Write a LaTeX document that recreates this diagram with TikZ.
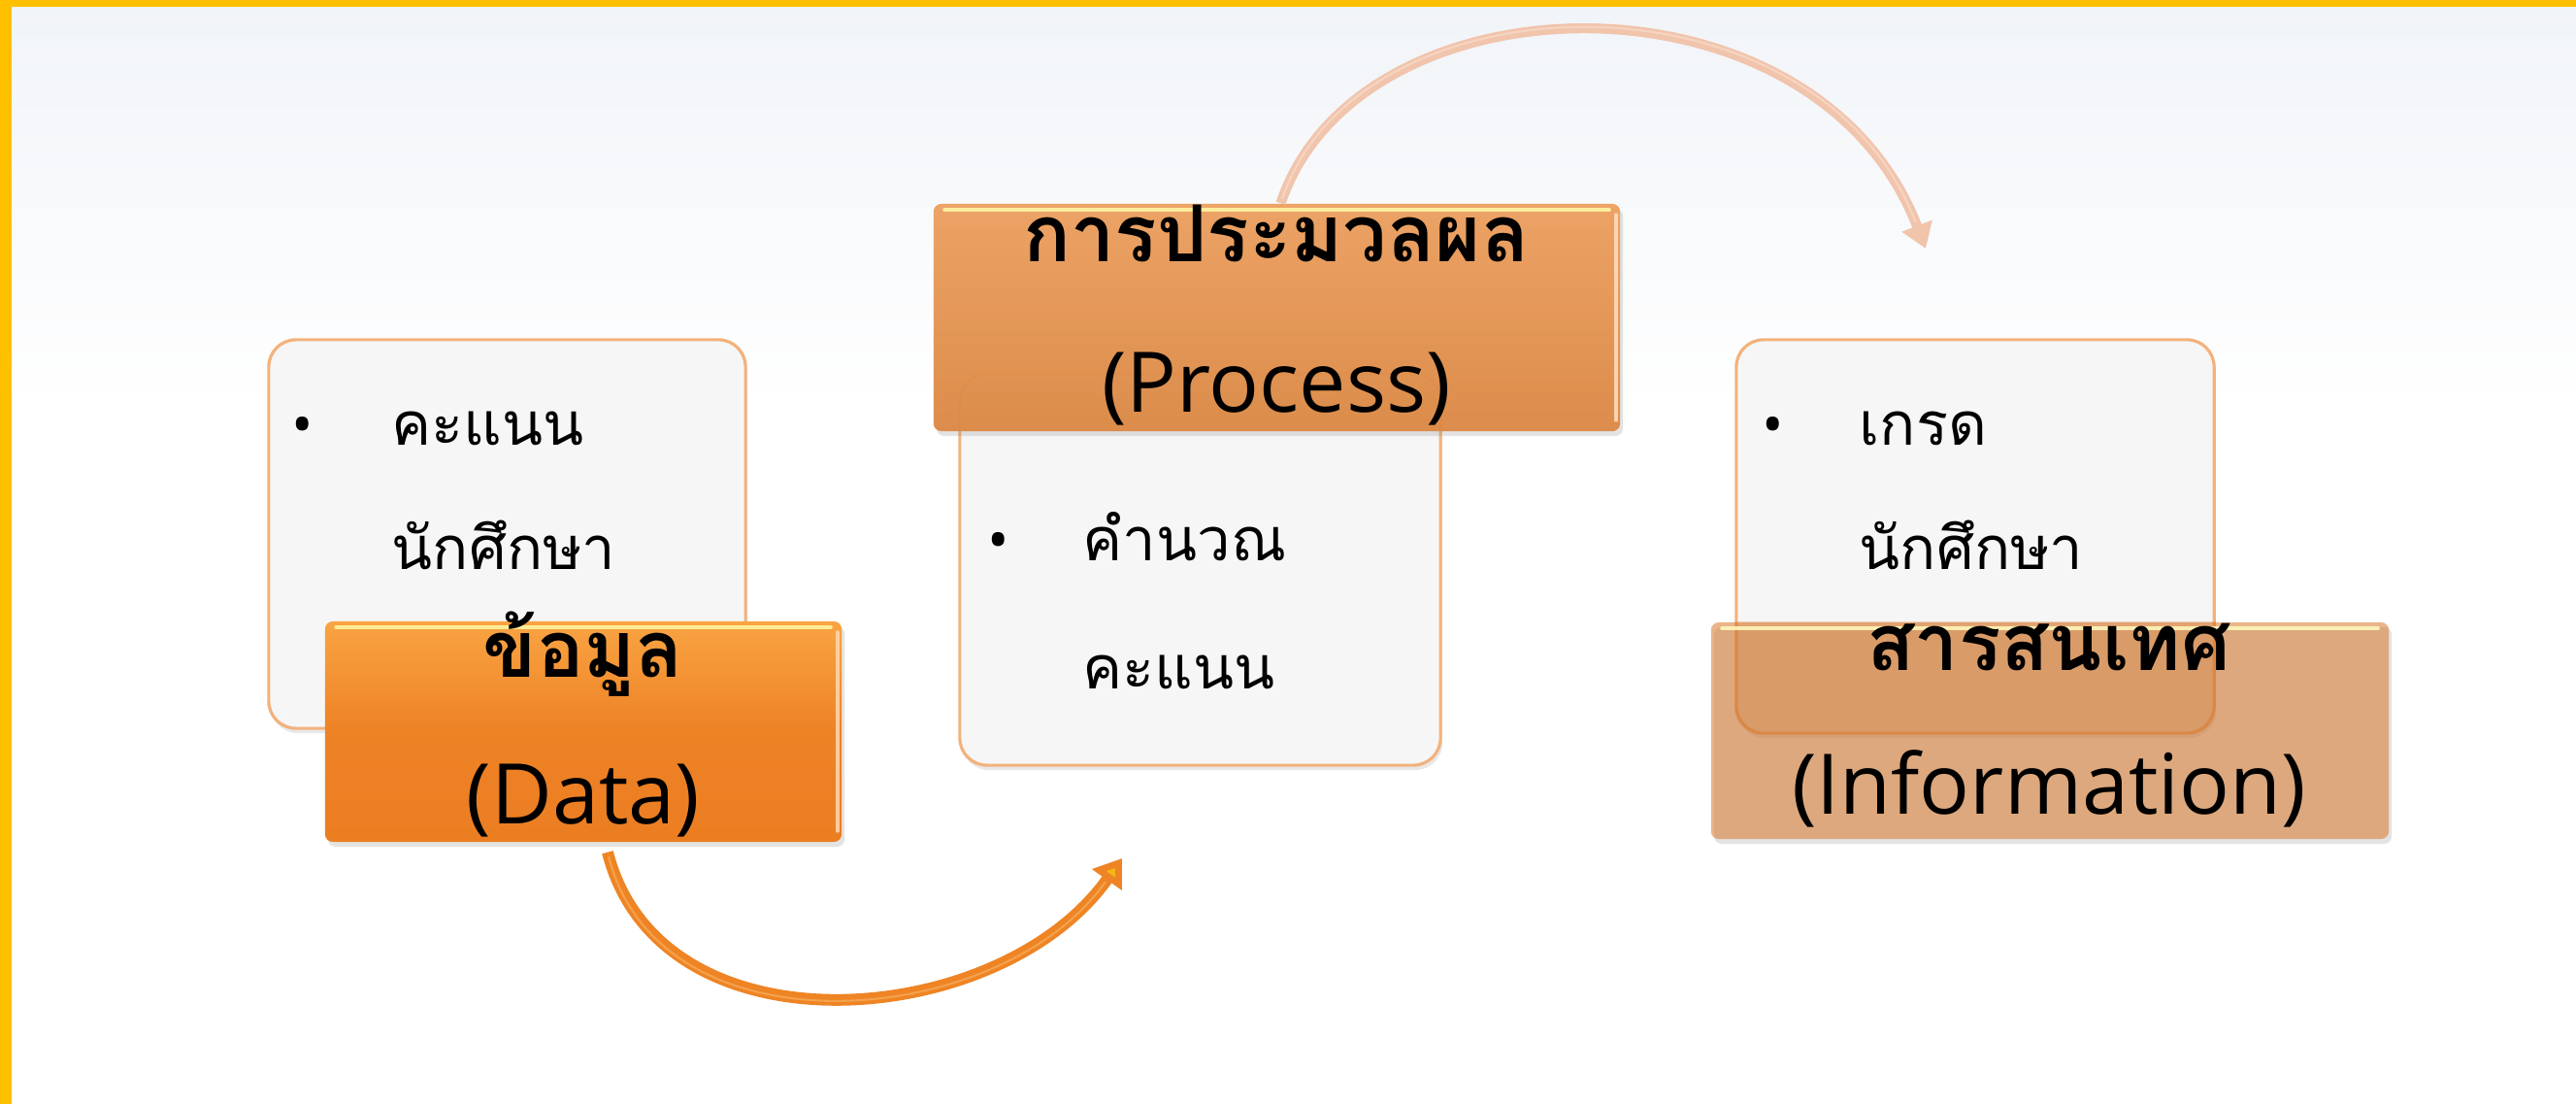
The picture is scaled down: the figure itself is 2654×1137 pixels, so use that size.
\documentclass[tikz,border=0pt]{standalone}
\usepackage{fontspec}
\newfontfamily\thaifont[Script=Thai]{Loma}
\newfontfamily\latfont{Open Sans}
\usetikzlibrary{arrows.meta,shadows,calc}
\definecolor{bordery}{HTML}{FFC000}
\definecolor{boxline}{HTML}{F3B27C}
\definecolor{boxfill}{HTML}{F6F6F6}
\definecolor{bgtop}{HTML}{F1F4F8}
\definecolor{orA1}{HTML}{F9A443}
\definecolor{orA2}{HTML}{EC7E22}
\definecolor{orB1}{HTML}{EDA160}
\definecolor{orB2}{HTML}{DC8946}
\definecolor{orC}{HTML}{D9782A}
\definecolor{arrowA}{HTML}{EE8424}
\definecolor{arrowAhl}{HTML}{F7AE5C}
\definecolor{arrowB}{HTML}{F1C4AC}
\definecolor{arrowBhl}{HTML}{F8DCCB}
\begin{document}
\begin{tikzpicture}[x=0.01cm,y=-0.01cm,
  whitebox/.style={draw=boxline, line width=0.9pt, fill=boxfill, rounded corners=0.28cm,
    drop shadow={shadow xshift=0.02cm, shadow yshift=-0.05cm, opacity=0.18}},
  orbox/.style={rounded corners=0.08cm, draw=none,
    drop shadow={shadow xshift=0.03cm, shadow yshift=-0.05cm, opacity=0.22}},
  titleth/.style={anchor=base, inner sep=0pt, font=\thaifont\bfseries\fontsize{23}{28}\selectfont},
  titlelat/.style={anchor=base, inner sep=0pt, font=\latfont\fontsize{24.5}{30}\selectfont},
  bul/.style={anchor=base, inner sep=0pt, font=\latfont\fontsize{17}{20}\selectfont},
  itemtxt/.style={anchor=base west, inner sep=0pt, font=\thaifont\fontsize{17.5}{22}\selectfont},
  hl/.style={line width=1.1pt, line cap=round, draw=#1, opacity=0.85},
]
% page and background
\fill[white] (0,0) rectangle (2654,1137);
\shade[top color=bgtop, bottom color=white] (12,7) rectangle (2654,420);
\fill[bordery] (0,0) rectangle (2654,7);
\fill[bordery] (0,0) rectangle (12,1137);
\useasboundingbox (0,0) rectangle (2654,1137);

% ---------- Data ----------
\node[whitebox, minimum width=4.91cm, minimum height=4.00cm] (dataW) at (522.5,550) {};
\node[orbox, top color=orA1, bottom color=orA2, middle color=orA2!90!orA1,
      minimum width=5.32cm, minimum height=2.27cm] (dataO) at (601,753.5) {};
\draw[hl=yellow!35!white] ([xshift=0.12cm,yshift=-0.07cm]dataO.north west) -- ([xshift=-0.12cm,yshift=-0.07cm]dataO.north east);
\draw[hl=orange!30!white] ([xshift=-0.05cm,yshift=-0.12cm]dataO.north east) -- ([xshift=-0.05cm,yshift=0.12cm]dataO.south east);
\node[bul] (dataB) at (312,459) {•};
\node[itemtxt] (dataI1) at (403,459) {คะแนน};
\node[itemtxt] (dataI2) at (403,587) {นักศึกษา};
\node[titleth] (dataT1) at (601,698) {ข้อมูล};
\node[titlelat] (dataT2) at (601,848) {(Data)};

% ---------- Process ----------
\node[whitebox, minimum width=4.95cm, minimum height=4.03cm] (procW) at (1236.5,586.5) {};
\node[orbox, top color=orB1, bottom color=orB2, opacity=0.96,
      minimum width=7.07cm, minimum height=2.34cm] (procO) at (1315.5,327) {};
\draw[hl=yellow!35!white] ([xshift=0.12cm,yshift=-0.07cm]procO.north west) -- ([xshift=-0.12cm,yshift=-0.07cm]procO.north east);
\draw[hl=orange!25!white] ([xshift=-0.05cm,yshift=-0.12cm]procO.north east) -- ([xshift=-0.05cm,yshift=0.12cm]procO.south east);
\node[titleth] (procT1) at (1315,270) {การประมวลผล};
\node[titlelat] (procT2) at (1315,425) {(Process)};
\node[bul] (procB) at (1029,578) {•};
\node[itemtxt] (procI1) at (1115,578) {คำนวณ};
\node[itemtxt] (procI2) at (1115,710) {คะแนน};

% ---------- Information ----------
\node[whitebox, minimum width=4.92cm, minimum height=4.05cm] (infoW) at (2035,552.5) {};
\node[orbox, fill=orC, fill opacity=0.55,
      minimum width=6.98cm, minimum height=2.23cm] (infoO) at (2112,752.5) {};
\begin{scope}
  \clip[rounded corners=0.08cm] (infoO.south west) rectangle (infoO.north east);
  \fill[orC, opacity=0.22, rounded corners=0.28cm] (infoW.south west) rectangle (infoW.north east);
\end{scope}
\draw[hl=yellow!25!white] ([xshift=0.12cm,yshift=-0.07cm]infoO.north west) -- ([xshift=-0.12cm,yshift=-0.07cm]infoO.north east);
\node[bul] (infoB) at (1827,459) {•};
\node[itemtxt] (infoI1) at (1915,459) {เกรด};
\node[itemtxt] (infoI2) at (1915,587) {นักศึกษา};
\node[titleth] (infoT1) at (2111,691) {สารสนเทศ};
\node[titlelat] (infoT2) at (2111,838) {(Information)};

% ---------- Arrows ----------
\coordinate (a1s) at ($(dataO.south)+(25,10)$);
\coordinate (a1e) at (1156,884);
\draw[arrowA, line width=3.4pt, -{Triangle[width=0.36cm,length=0.27cm, fill=arrowA!60!yellow]}]
  (a1s) .. controls (680,1090) and (1030,1062) .. (a1e);
\draw[arrowAhl, line width=0.6pt, line cap=round, opacity=0.7, shorten >=0.3cm, shorten <=0.05cm]
  (a1s) .. controls (680,1090) and (1030,1062) .. (a1e);

\coordinate (a2e) at (1984,256);
\draw[arrowB, line width=2.9pt, -{Triangle[width=0.32cm,length=0.25cm]}]
  ([xshift=0.04cm]procO.north) .. controls (1400,-30) and (1870,-40) .. (a2e);
\draw[arrowBhl, line width=0.6pt, line cap=round, opacity=0.7, shorten >=0.3cm, shorten <=0.05cm]
  ([xshift=0.04cm]procO.north) .. controls (1400,-30) and (1870,-40) .. (a2e);
\end{tikzpicture}
\end{document}
